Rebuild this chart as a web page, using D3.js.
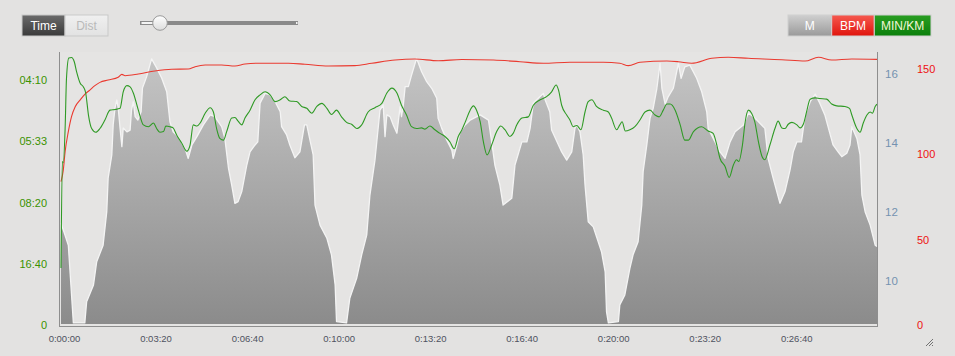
<!DOCTYPE html>
<html><head><meta charset="utf-8">
<script src="https://cdn.jsdelivr.net/npm/d3@7/dist/d3.min.js"></script>
<style>
html,body{margin:0;padding:0;background:#e3e2e1;overflow:hidden;}
svg{display:block;font-family:"Liberation Sans",Arial,Helvetica,sans-serif;}
</style></head><body>
<svg id="c" width="955" height="356"></svg>
<script>
// ---- data (seconds / metres / m·s-1 / bpm) ----
const elevTime = [0,16,27,52,56,71,78,92,100,103,111,114,118,122,125,129,133,136,144,151,154,158,162,168,175,178,187,198,209,220,231,238,245,256,271,278,286,297,311,326,336,351,358,366,373,380,387,395,406,413,424,430,435,446,457,468,479,482,493,500,511,522,532,537,544,551,555,566,581,591,599,602,624,631,646,657,668,675,686,697,704,708,712,719,726,734,741,744,748,752,759,766,777,788,799,810,821,824,832,843,854,857,865,872,883,894,916,934,941,948,959,966,985,992,1007,1018,1025,1032,1043,1054,1058,1068,1072,1087,1094,1105,1116,1123,1127,1134,1141,1145,1152,1163,1170,1181,1189,1192,1196,1218,1221,1232,1243,1250,1261,1269,1272,1280,1287,1294,1302,1309,1313,1320,1327,1338,1349,1355,1363,1374,1389,1400,1411,1414,1429,1440,1451,1462,1473,1491,1502,1513,1524,1538,1545,1556,1571,1582,1593,1600,1608,1618,1626,1637,1648,1658,1669,1677,1687,1698,1706,1717,1724,1728,1739,1746,1750,1757,1768,1779,1783];
const elevMeters = [11.67,11.03,8.78,8.78,9.39,9.88,10.55,11.03,12.00,12.97,13.64,14.51,15.00,15.23,15.00,14.42,13.88,14.42,14.31,14.36,14.94,15.18,14.75,14.65,14.89,15.58,15.90,16.42,16.16,15.87,15.47,14.60,14.31,14.17,13.83,13.54,13.93,14.17,14.51,14.80,14.75,14.46,14.12,13.25,12.77,12.24,12.29,12.58,13.35,13.73,13.93,14.02,15.14,15.42,15.38,15.18,14.89,14.46,14.22,13.93,13.56,13.73,14.51,14.51,14.07,13.64,12.19,11.61,11.23,10.75,9.88,8.82,8.78,9.49,10.07,10.75,11.32,12.48,13.49,14.94,15.09,14.17,14.80,14.75,14.51,14.27,15.04,14.75,15.09,15.62,15.62,15.95,16.44,16.05,15.76,15.57,15.28,14.70,14.41,14.07,13.78,13.54,13.93,14.30,14.51,14.65,14.80,14.65,14.02,13.35,12.77,12.19,12.39,13.35,14.02,14.02,14.41,15.14,15.28,15.42,15.23,14.89,14.36,13.93,13.73,13.49,13.73,14.41,14.51,14.31,13.64,12.77,11.71,11.56,11.28,10.84,10.26,9.10,8.78,8.82,9.30,9.59,10.36,10.75,11.13,12.19,13.16,13.93,14.70,14.99,15.57,16.29,15.57,15.11,15.33,15.57,16.29,15.86,16.19,16.24,15.86,15.47,14.89,14.41,14.02,13.73,13.54,14.02,14.31,14.51,14.85,14.75,14.60,14.41,13.54,12.97,12.24,12.58,13.21,13.73,14.02,14.02,14.80,15.18,15.40,15.14,14.80,14.41,13.93,13.73,13.59,13.69,13.93,14.46,14.12,13.64,12.48,12.00,11.61,11.03,10.99];

const paceTime = [0,3,5,9,12,17,23,29,34,42,49,54,60,67,76,85,96,107,118,129,136,144,151,158,169,180,191,202,209,216,224,229,238,245,253,264,275,282,289,297,304,315,326,333,340,347,355,362,373,380,387,395,402,413,424,435,446,457,468,479,489,500,515,526,537,548,559,570,581,591,602,613,624,635,646,657,671,686,701,712,723,734,744,755,766,777,788,795,806,817,828,839,850,859,868,876,883,894,901,908,916,923,931,941,952,961,970,981,988,996,1007,1021,1032,1047,1061,1072,1082,1087,1094,1105,1112,1119,1127,1136,1145,1152,1160,1170,1185,1196,1203,1214,1221,1226,1233,1243,1254,1265,1276,1287,1298,1307,1316,1324,1331,1342,1353,1363,1371,1382,1400,1414,1425,1433,1440,1451,1460,1469,1476,1481,1489,1495,1502,1509,1516,1524,1532,1538,1549,1560,1567,1575,1582,1589,1597,1608,1615,1622,1629,1637,1648,1658,1673,1684,1695,1713,1723,1728,1739,1746,1753,1761,1768,1773,1779,1783];
const speedMs = [0.93,2.67,2.65,3.21,4.03,4.36,4.37,4.30,4.14,3.95,3.89,3.79,3.43,3.21,3.15,3.21,3.35,3.51,3.52,3.54,3.81,3.91,3.89,3.79,3.51,3.27,3.24,3.30,3.21,3.15,3.16,3.25,3.24,3.22,3.10,2.97,2.84,2.94,3.27,3.25,3.30,3.46,3.55,3.48,3.21,3.05,3.02,3.16,3.38,3.39,3.33,3.27,3.38,3.51,3.68,3.76,3.81,3.76,3.65,3.68,3.73,3.66,3.65,3.57,3.54,3.46,3.57,3.62,3.54,3.44,3.51,3.40,3.31,3.28,3.21,3.27,3.48,3.55,3.62,3.79,3.87,3.79,3.59,3.43,3.24,3.21,3.22,3.20,3.25,3.19,3.13,3.08,2.99,2.88,3.08,3.19,3.31,3.51,3.58,3.51,3.32,2.99,2.78,2.94,3.16,3.25,3.19,3.08,3.13,3.27,3.38,3.40,3.59,3.68,3.73,3.81,3.92,3.84,3.59,3.43,3.35,3.24,3.26,3.19,3.48,3.65,3.68,3.57,3.51,3.48,3.38,3.19,3.27,3.32,3.17,3.19,3.24,3.35,3.48,3.51,3.43,3.40,3.51,3.61,3.61,3.51,3.27,3.02,3.02,3.16,3.24,3.17,3.13,2.94,2.72,2.59,2.41,2.61,2.70,2.67,2.94,3.32,3.51,3.46,3.32,2.99,2.75,2.70,2.94,3.21,3.33,3.22,3.21,3.28,3.31,3.27,3.22,3.28,3.48,3.69,3.71,3.70,3.69,3.61,3.58,3.57,3.54,3.43,3.21,3.15,3.30,3.43,3.48,3.46,3.57,3.61];

const hrTime = [0,5,9,16,23,31,42,52,63,74,85,103,125,133,140,169,205,242,278,293,315,351,380,402,426,497,533,584,642,679,730,773,824,876,945,1003,1054,1112,1185,1221,1240,1265,1324,1349,1378,1422,1458,1502,1575,1626,1655,1684,1728,1783];
const hrBpm = [84,90.8,101.6,113.3,122.1,127.9,131.9,135.2,137.7,140.3,142.2,143.6,145.2,146.9,146.1,147.1,148.9,149.9,150.0,151.4,152.4,152.4,151.8,153.0,153.4,153.4,152.8,151.8,152.0,153.4,155.3,155.9,154.9,155.6,155.3,154.3,153.4,154.0,154.0,153.4,152.0,154.0,154.7,154.3,153.4,156.3,156.9,156.3,155.5,154.7,156.9,155.3,155.9,155.7];

const timeTicks = [0,200,400,600,800,1000,1200,1400,1600];
const speedTicks = [0,1,2,3,4];
const elevTicks = [10,12,14,16];
const hrTicks = [0,50,100,150];
const modeButtons = ["Time","Dist"];
const unitButtons = ["M","BPM","MIN/KM"];

// ---- layout ----
const svg = d3.select("#c");
const L = 59, R = 877, T = 52, B = 325;

const x = d3.scaleLinear().domain([0,1783]).range([61,R]);
const yElev = d3.scaleLinear().domain([8.72,16.62]).range([B,T]);
const ySpeed = d3.scaleLinear().domain([0,4.46]).range([B,T]);
const yHr = d3.scaleLinear().domain([0,160]).range([B,T]);

const defs = svg.append("defs");
function vgrad(id, stops, y1, y2){
  const g = defs.append("linearGradient").attr("id",id).attr("x1",0).attr("x2",0);
  if (y1 !== undefined) g.attr("gradientUnits","userSpaceOnUse").attr("y1",y1).attr("y2",y2);
  else g.attr("y1",0).attr("y2",1);
  stops.forEach(s=>g.append("stop").attr("offset",s[0]).attr("stop-color",s[1]));
}
vgrad("gArea", [[0,"#c6c6c6"],[1,"#8b8b8b"]], T, B);
vgrad("gTime", [[0,"#6b6b6b"],[1,"#3a3a3a"]]);
vgrad("gDist", [[0,"#f0f0f0"],[1,"#e2e2e2"]]);
vgrad("gM", [[0,"#cfcfcf"],[1,"#9a9a9a"]]);
vgrad("gBPM", [[0,"#f65a50"],[1,"#e0140c"]]);
vgrad("gMIN", [[0,"#2a9e22"],[1,"#0b7f0b"]]);
vgrad("gKnob", [[0,"#ffffff"],[1,"#dcdcdc"]]);

// plot background
svg.append("rect").attr("x",L).attr("y",T).attr("width",R-L).attr("height",B-T+1).attr("fill","#e5e4e3");

// elevation area
const elevData = elevTime.map((t,i)=>({t, v: elevMeters[i]}));
const area = d3.area().x(d=>x(d.t)).y0(yElev.range()[0]-1).y1(d=>yElev(d.v));
svg.append("path").datum(elevData).attr("d",area).attr("fill","url(#gArea)");
const topLine = d3.line().x(d=>x(d.t)).y(d=>yElev(d.v));
svg.append("path").datum(elevData).attr("d",topLine).attr("fill","none")
   .attr("stroke","#f4f4f4").attr("stroke-width",1.3).attr("stroke-linejoin","round");

// heart-rate line
const hrData = hrTime.map((t,i)=>({t, v: hrBpm[i]}));
svg.append("path").datum(hrData)
  .attr("d", d3.line().x(d=>x(d.t)).y(d=>yHr(d.v)).curve(d3.curveMonotoneX))
  .attr("fill","none").attr("stroke","#ea3a30").attr("stroke-width",1.1);

// pace line
const spData = paceTime.map((t,i)=>({t, v: speedMs[i]}));
svg.append("path").datum(spData)
  .attr("d", d3.line().x(d=>x(d.t)).y(d=>ySpeed(d.v)).curve(d3.curveMonotoneX))
  .attr("fill","none").attr("stroke","#2f9a25").attr("stroke-width",1.1);

// frame lines
svg.append("line").attr("x1",L+0.5).attr("x2",L+0.5).attr("y1",T).attr("y2",B+1).attr("stroke","#8e8e8e");
svg.append("line").attr("x1",R+0.5).attr("x2",R+0.5).attr("y1",T).attr("y2",B+1).attr("stroke","#8e8e8e");
svg.append("line").attr("x1",L).attr("x2",R+1).attr("y1",B+1.5).attr("y2",B+1.5).attr("stroke","#8e8e8e");

// axes
function styleAxis(g, color, size){
  g.select(".domain").remove();
  g.selectAll("line").remove();
  g.selectAll("text").attr("fill",color).style("font-size",size+"px")
    .style("font-family","'Liberation Sans',Arial,sans-serif");
}
const paceFmt = v => {
  if (v === 0) return "0";
  const s = Math.round(1000 / v), m = Math.floor(s/60), r = s % 60;
  return String(m).padStart(2,"0") + ":" + String(r).padStart(2,"0");
};
svg.append("g").attr("transform",`translate(${L},0)`)
  .call(d3.axisLeft(ySpeed).tickValues(speedTicks).tickFormat(paceFmt).tickSize(0).tickPadding(12))
  .call(g=>styleAxis(g,"#3a9200",11));

svg.append("g").attr("transform",`translate(${R},0)`)
  .call(d3.axisRight(yElev).tickValues(elevTicks).tickFormat(d3.format("d")).tickSize(0).tickPadding(8))
  .call(g=>styleAxis(g,"#7592b0",11.5));

svg.append("g").attr("transform",`translate(${R},0)`)
  .call(d3.axisRight(yHr).tickValues(hrTicks).tickFormat(d3.format("d")).tickSize(0).tickPadding(40))
  .call(g=>styleAxis(g,"#ee1111",11));

const tFmt = s => { const h=Math.floor(s/3600), m=Math.floor((s%3600)/60), r=s%60;
  return h + ":" + String(m).padStart(2,"0") + ":" + String(r).padStart(2,"0"); };
svg.append("g").attr("transform",`translate(0,${B+1})`)
  .call(d3.axisBottom(x).tickValues(timeTicks).tickFormat(tFmt).tickSize(0).tickPadding(9))
  .call(g=>{ styleAxis(g,"#4f5260",9.5); g.selectAll("text").attr("dx",3); });

// mode buttons
const modeX = d3.scaleBand().domain(modeButtons).range([22,108]);
const mb = svg.append("g").selectAll("g").data(modeButtons).join("g")
  .attr("transform", d=>`translate(${modeX(d)},15)`);
mb.append("rect").attr("width",modeX.bandwidth()).attr("height",21)
  .attr("fill",(d,i)=> i===0 ? "url(#gTime)" : "url(#gDist)")
  .attr("stroke","#c9c9c9").attr("stroke-width",1);
mb.append("text").attr("x",modeX.bandwidth()/2).attr("y",15).attr("text-anchor","middle")
  .style("font-size","12px").attr("fill",(d,i)=> i===0 ? "#ffffff" : "#b9b9b9").text(d=>d);

// slider
const sl = svg.append("g");
sl.append("rect").attr("x",140).attr("y",21).attr("width",158).attr("height",4).attr("fill","#8a8a8a");
sl.append("rect").attr("x",141.5).attr("y",22).attr("width",16).attr("height",2).attr("fill","#f4f4f4");
sl.append("rect").attr("x",296).attr("y",22).attr("width",1.5).attr("height",2).attr("fill","#f4f4f4");
sl.append("circle").attr("cx",160).attr("cy",23).attr("r",7.3).attr("fill","url(#gKnob)").attr("stroke","#9a9a9a");

// unit buttons
const ub = [[788,831.7],[831.7,874.3],[874.3,931]];
const ug = svg.append("g").selectAll("g").data(unitButtons).join("g")
  .attr("transform",(d,i)=>`translate(${ub[i][0]},15)`);
ug.append("rect").attr("width",(d,i)=>ub[i][1]-ub[i][0]).attr("height",21)
  .attr("fill",(d,i)=>["url(#gM)","url(#gBPM)","url(#gMIN)"][i])
  .attr("stroke","#cfcfcf").attr("stroke-width",1);
ug.append("text").attr("x",(d,i)=>(ub[i][1]-ub[i][0])/2).attr("y",15).attr("text-anchor","middle")
  .style("font-size","12px").attr("fill",(d,i)=> i===2 ? "#f3f7d8" : "#ffffff").text(d=>d);

// resize grip
const grip = svg.append("g").attr("stroke","#555").attr("stroke-width",0.8);
[0,3,6].forEach(o => grip.append("line").attr("x1",933-o).attr("y1",339).attr("x2",926).attr("y2",346-o+0).attr("x1",933).attr("y1",339+o).attr("x2",926+o).attr("y2",346));
</script>
</body></html>
